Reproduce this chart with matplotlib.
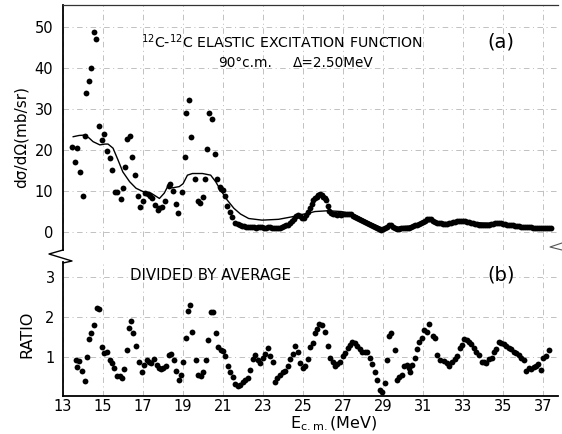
import matplotlib
matplotlib.use("Agg")
import matplotlib.pyplot as plt
from matplotlib.lines import Line2D

plt.rcParams['font.family'] = ['DejaVu Sans']
plt.rcParams['mathtext.default'] = 'regular'

# ---------------- data ----------------
# (a) measured cross section, mb/sr
cs_energy = [13.46, 13.61, 13.70, 13.84, 13.99, 14.09, 14.17, 14.29, 14.41, 14.55, 14.65, 14.80,
             14.95, 15.07, 15.22, 15.35, 15.46, 15.61, 15.71, 15.88, 16.01, 16.11, 16.21, 16.33,
             16.44, 16.61, 16.74, 16.87, 16.99, 17.12, 17.24, 17.35, 17.45, 17.58, 17.73, 17.82,
             17.95, 18.08, 18.28, 18.36, 18.48, 18.64, 18.76, 18.94, 19.09, 19.17, 19.29, 19.40,
             19.58, 19.75, 19.87, 19.98, 20.10, 20.18, 20.30, 20.43, 20.58, 20.71, 20.83, 20.92,
             21.02, 21.11, 21.22, 21.34, 21.46, 21.62,
             21.75, 21.85, 21.95, 22.05, 22.15, 22.25, 22.35, 22.45, 22.55, 22.65, 22.75, 22.85,
             22.95, 23.05, 23.15, 23.25, 23.35, 23.45, 23.55, 23.65, 23.75, 23.85, 23.95, 24.05,
             24.15, 24.25, 24.35, 24.45, 24.55, 24.65, 24.75, 24.85, 24.95, 25.05, 25.15, 25.25,
             25.34, 25.42, 25.51, 25.60, 25.68, 25.76, 25.84, 25.93, 26.01, 26.08, 26.14, 26.22,
             26.30, 26.40, 26.50, 26.60, 26.70, 26.80, 26.90, 27.00, 27.10, 27.20, 27.30, 27.40,
             27.50, 27.60, 27.70, 27.80, 27.90, 28.00, 28.10, 28.20, 28.30, 28.40, 28.50, 28.60,
             28.70, 28.80, 28.90, 29.00, 29.10, 29.20, 29.30, 29.40, 29.50, 29.60, 29.70, 29.80,
             29.90, 30.00, 30.10, 30.20, 30.30, 30.40, 30.50, 30.60, 30.70, 30.80, 30.90, 31.00,
             31.10, 31.20, 31.30, 31.40, 31.50, 31.60, 31.70, 31.80, 31.90, 32.00, 32.10, 32.20,
             32.30, 32.40, 32.50, 32.60, 32.70, 32.80, 32.90, 33.00, 33.10, 33.20, 33.30, 33.40,
             33.50, 33.60, 33.70, 33.80, 33.90, 34.00, 34.10, 34.20, 34.30, 34.40, 34.50, 34.60,
             34.70, 34.80, 34.90, 35.00, 35.10, 35.20, 35.30, 35.40, 35.50, 35.60, 35.70, 35.80,
             35.90, 36.00, 36.10, 36.20, 36.30, 36.40, 36.50, 36.60, 36.70, 36.80, 36.90, 37.00,
             37.10, 37.20, 37.30, 37.40]
cs_value = [20.8, 17.1, 20.6, 14.7, 8.9, 23.5, 34.1, 36.8, 40.2, 48.8, 47.2, 25.9,
            22.6, 23.9, 19.7, 18.1, 15.2, 9.9, 9.7, 8.1, 10.8, 15.9, 22.7, 23.5,
            18.4, 13.9, 8.9, 6.0, 7.7, 9.5, 9.3, 8.8, 8.2, 6.6, 5.5, 5.8,
            6.2, 7.6, 11.3, 11.7, 10.0, 6.8, 4.6, 9.9, 18.4, 29.0, 32.3, 23.3,
            13.0, 7.7, 7.0, 8.6, 13.0, 20.4, 29.0, 27.6, 19.0, 13.0, 11.1, 10.6,
            10.3, 8.8, 6.4, 5.0, 3.7, 2.3,
            1.9, 1.6, 1.5, 1.4, 1.3, 1.3, 1.2, 1.3, 1.2, 1.1, 1.2, 1.3,
            1.2, 1.0, 1.1, 1.3, 1.2, 1.0, 0.9, 1.0, 1.1, 1.0, 1.2, 1.4,
            1.6, 1.8, 2.2, 2.7, 3.2, 3.8, 4.2, 3.9, 3.4, 3.5, 4.2, 5.0,
            5.8, 6.8, 7.8, 8.3, 8.6, 9.0, 9.2, 9.0, 8.6, 8.2, 7.8, 6.4,
            5.2, 4.6, 4.4, 4.3, 4.2, 4.3, 4.2, 4.3, 4.4, 4.5, 4.4, 4.4,
            4.0, 3.7, 3.4, 3.1, 2.9, 2.6, 2.4, 2.1, 1.9, 1.6, 1.4, 1.2,
            1.0, 0.7, 0.5, 0.7, 1.0, 1.3, 1.6, 1.7, 1.3, 0.9, 0.8, 0.8,
            0.9, 0.9, 1.0, 1.0, 1.1, 1.2, 1.4, 1.6, 1.8, 2.0, 2.2, 2.5,
            2.8, 3.1, 3.3, 3.1, 2.8, 2.5, 2.3, 2.2, 2.1, 2.0, 2.0, 2.0,
            2.1, 2.2, 2.4, 2.5, 2.6, 2.7, 2.8, 2.8, 2.7, 2.5, 2.4, 2.3,
            2.1, 2.0, 1.9, 1.8, 1.7, 1.7, 1.7, 1.7, 1.8, 1.9, 2.0, 2.1,
            2.1, 2.1, 2.1, 2.0, 1.9, 1.8, 1.7, 1.7, 1.6, 1.5, 1.4, 1.4,
            1.3, 1.3, 1.3, 1.3, 1.2, 1.2, 1.1, 1.1, 1.1, 1.0, 1.0, 1.0,
            0.9, 0.9, 0.9, 0.9]

# (a) energy-averaged cross section (Delta = 2.50 MeV)
avg_energy = [13.51, 13.80, 14.09, 14.30, 14.50, 14.84, 15.10, 15.25, 15.50, 15.75, 15.99, 16.33,
              16.65, 16.99, 17.40, 17.82, 18.06, 18.23, 18.48, 18.81, 19.00, 19.22, 19.47, 19.97,
              20.38, 20.63, 20.87, 21.21, 21.54, 21.87, 22.28, 22.95, 23.77, 24.43, 24.93, 25.10,
              25.59, 26.26, 26.92, 27.58, 28.24, 28.90, 29.56, 30.39, 31.00, 31.40, 32.20, 33.00,
              34.00, 34.86, 36.00, 37.35]
avg_value = [23.3, 23.6, 23.7, 23.0, 22.1, 21.3, 21.5, 21.5, 20.5, 17.6, 14.7, 12.3,
             10.7, 9.9, 9.5, 8.2, 9.5, 11.1, 10.8, 11.1, 11.8, 13.9, 14.3, 14.3,
             13.9, 12.3, 10.3, 7.8, 5.8, 4.4, 3.3, 2.9, 3.1, 3.7, 4.3, 4.4,
             5.0, 5.2, 5.0, 4.2, 2.5, 1.1, 1.1, 1.5, 2.3, 2.6, 2.3, 2.5,
             2.2, 2.1, 1.5, 1.0]

# (b) ratio = measured / average
ratio_energy = [13.63, 13.71, 13.81, 13.96, 14.09, 14.19, 14.32, 14.42, 14.55, 14.69, 14.80, 14.95,
                15.07, 15.18, 15.33, 15.45, 15.56, 15.70, 15.83, 15.94, 16.06, 16.18, 16.29, 16.41,
                16.52, 16.65, 16.80, 16.94, 17.05, 17.19, 17.32, 17.42, 17.55, 17.68, 17.78, 17.90,
                18.01, 18.14, 18.28, 18.39, 18.53, 18.66, 18.79, 18.91, 19.01, 19.14, 19.24, 19.37,
                19.47, 19.63, 19.75, 19.88, 20.02, 20.13, 20.26, 20.38, 20.50, 20.63, 20.76, 20.88,
                21.01, 21.12, 21.26, 21.37, 21.49, 21.62, 21.75, 21.87, 21.99, 22.12, 22.24, 22.36,
                22.48, 22.61, 22.75, 22.86, 23.00, 23.11, 23.24, 23.36, 23.49, 23.61, 23.72, 23.85,
                23.99, 24.10, 24.24, 24.35, 24.48, 24.60, 24.73, 24.87, 24.98, 25.10, 25.23, 25.36,
                25.48, 25.59, 25.71, 25.81, 25.92, 26.09, 26.22, 26.36, 26.47, 26.59, 26.70, 26.83,
                26.97, 27.08, 27.22, 27.33, 27.46, 27.58, 27.70, 27.83, 27.95, 28.07, 28.19, 28.32,
                28.44, 28.57, 28.71, 28.84, 28.95, 29.07, 29.20, 29.29, 29.40, 29.60, 29.70, 29.81,
                29.93, 30.06, 30.18, 30.28, 30.36, 30.44, 30.59, 30.69, 30.81, 30.92, 31.05, 31.19,
                31.30, 31.47, 31.58, 31.68, 31.85, 32.02, 32.18, 32.31, 32.46, 32.58, 32.71, 32.83,
                32.93, 33.04, 33.17, 33.29, 33.41, 33.54, 33.66, 33.78, 33.92, 34.03, 34.15, 34.28,
                34.42, 34.53, 34.66, 34.78, 34.91, 35.03, 35.16, 35.27, 35.41, 35.52, 35.66, 35.77,
                35.89, 36.02, 36.15, 36.27, 36.40, 36.52, 36.65, 36.76, 36.90, 37.01, 37.15, 37.28]
ratio_value = [0.92, 0.75, 0.90, 0.66, 0.41, 1.00, 1.45, 1.60, 1.80, 2.24, 2.21, 1.25,
               1.10, 1.13, 0.93, 0.85, 0.73, 0.54, 0.52, 0.48, 0.71, 1.17, 1.74, 1.91,
               1.60, 1.29, 0.88, 0.63, 0.80, 0.93, 0.89, 0.85, 0.95, 0.81, 0.72, 0.71,
               0.72, 0.78, 1.05, 1.07, 0.93, 0.66, 0.43, 0.56, 0.89, 1.48, 2.15, 2.30,
               1.62, 0.92, 0.56, 0.52, 0.64, 0.92, 1.43, 2.12, 2.12, 1.60, 1.25, 1.18,
               1.16, 1.03, 0.78, 0.64, 0.50, 0.33, 0.29, 0.31, 0.37, 0.43, 0.49, 0.68,
               0.95, 1.06, 0.92, 0.85, 0.98, 1.08, 1.22, 1.03, 0.89, 0.39, 0.47, 0.56,
               0.63, 0.66, 0.78, 0.96, 1.08, 1.28, 1.14, 0.85, 0.72, 0.78, 0.96, 1.25,
               1.35, 1.60, 1.70, 1.82, 1.81, 1.62, 1.28, 0.99, 0.87, 0.77, 0.83, 0.87,
               1.02, 1.10, 1.22, 1.31, 1.37, 1.35, 1.28, 1.20, 1.12, 1.14, 1.12, 0.97,
               0.82, 0.62, 0.42, 0.17, 0.12, 0.35, 0.92, 1.53, 1.60, 1.18, 0.43, 0.50,
               0.56, 0.77, 0.81, 0.73, 0.64, 0.81, 0.97, 1.20, 1.39, 1.49, 1.68, 1.62,
               1.82, 1.53, 1.47, 1.06, 0.93, 0.91, 0.85, 0.79, 0.89, 0.95, 1.02, 1.22,
               1.31, 1.45, 1.43, 1.39, 1.33, 1.22, 1.14, 1.06, 0.89, 0.87, 0.85, 0.95,
               0.99, 1.12, 1.20, 1.37, 1.35, 1.33, 1.28, 1.22, 1.20, 1.14, 1.10, 1.06,
               0.97, 0.92, 0.66, 0.72, 0.70, 0.75, 0.78, 0.83, 0.67, 0.97, 1.02, 1.17]

x_ticks = [13, 15, 17, 19, 21, 23, 25, 27, 29, 31, 33, 35, 37]
x_ticklabels = ['13', '15', '17', '19', '21', '23', '25', '27', '29', '31', '33', '35', '37']
top_yticks = [0, 10, 20, 30, 40, 50]
bottom_yticks = [1, 2, 3]

# ---------------- figure ----------------
W, H = 562, 434
fig = plt.figure(figsize=(W / 100, H / 100), dpi=100)
fig.patch.set_facecolor('white')

def fx(px):
    return px / W

def fy(py):
    return 1 - py / H

L, R = 63, 558
ax1 = fig.add_axes([fx(L), fy(250), fx(R) - fx(L), fy(5) - fy(250)])
ax2 = fig.add_axes([fx(L), fy(396), fx(R) - fx(L), fy(262) - fy(396)], sharex=ax1)

xlim = (13.16, 37.74)
grid_kw = dict(color='#a8a8a8', lw=0.5, ls=(0, (8, 5, 1.5, 5)))

for ax in (ax1, ax2):
    ax.set_xlim(*xlim)
    ax.set_xticks(x_ticks)
    ax.grid(True, **grid_kw)
    ax.set_axisbelow(True)
    ax.tick_params(length=0, labelsize=10.5, pad=2, colors='black')
    ax.spines['right'].set_visible(False)
    ax.spines['left'].set_linewidth(1.3)

# top panel
ax1.set_ylim(-4.4, 55.5)
ax1.set_yticks(top_yticks)
ax1.tick_params(axis='y', pad=7)
ax1.spines['bottom'].set_visible(False)
ax1.spines['top'].set_linewidth(0.9)
ax1.spines['top'].set_color('#333333')
ax1.tick_params(labelbottom=False)
ax1.plot(avg_energy, avg_value, color='black', lw=1.0, zorder=3)
ax1.plot(cs_energy, cs_value, 'o', color='black', ms=4.2, mew=0, zorder=4)

# bottom panel
ax2.set_ylim(0.03, 3.38)
ax2.set_yticks(bottom_yticks)
ax2.tick_params(axis='y', pad=6)
ax2.spines['top'].set_visible(False)
ax2.spines['bottom'].set_linewidth(1.3)
ax2.set_xticklabels(x_ticklabels)
ax2.plot(ratio_energy, ratio_value, 'o', color='black', ms=4.2, mew=0, zorder=4)

# axis titles
fig.text(fx(21), fy(137), 'd\u03c3/d\u03a9(mb/sr)', fontsize=11, rotation=90,
         ha='center', va='center')
fig.text(fx(27), fy(334), 'RATIO', fontsize=11.5, rotation=90, ha='center', va='center')
fig.text(fx(333), fy(433), 'E$_{c.m.}$(MeV)', fontsize=11.5, ha='center', va='bottom')

# texts
fig.text(fx(282), fy(42), '$^{12}$C-$^{12}$C ELASTIC EXCITATION FUNCTION', fontsize=10.2,
         ha='center', va='center')
fig.text(fx(245), fy(63), '90\u00b0c.m.', fontsize=9.8, ha='center', va='center')
fig.text(fx(293), fy(63), '\u0394=2.50MeV', fontsize=9.8, ha='left', va='center')
fig.text(fx(501), fy(42), '(a)', fontsize=14, ha='center', va='center')
fig.text(fx(130), fy(275), 'DIVIDED BY AVERAGE', fontsize=10.8, ha='left', va='center')
fig.text(fx(501), fy(275), '(b)', fontsize=14, ha='center', va='center')

# axis-break marks
fig.add_artist(Line2D([fx(63), fx(49), fx(72), fx(63)], [fy(250), fy(254), fy(261), fy(263)],
                      color='black', lw=1.0))
fig.add_artist(Line2D([fx(562), fx(550), fx(562)], [fy(243), fy(247), fy(250)],
                      color='#555555', lw=0.8))

fig.savefig('out.png', dpi=100, facecolor='white')
